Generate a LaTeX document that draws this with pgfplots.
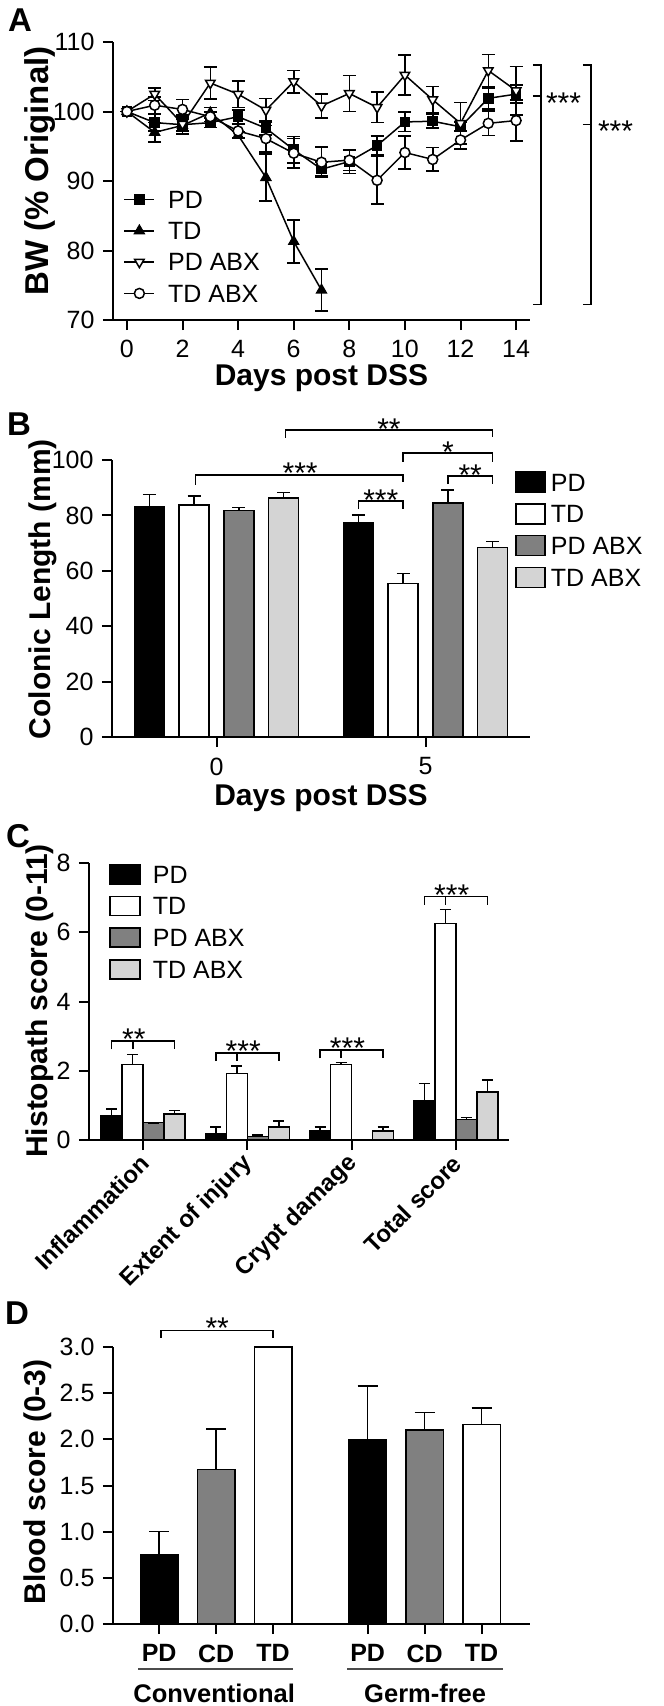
\documentclass[border=0pt]{standalone}
\usepackage{fontspec}
\setmainfont{Liberation Sans}
\usepackage{pgfplots}
\pgfplotsset{compat=1.18}

\definecolor{dgray}{RGB}{128,128,128}
\definecolor{lgray}{RGB}{212,212,212}
\newcommand{\fs}[1]{\fontsize{#1}{#1}\selectfont}

\pgfplotsset{
  prism/.style={
    scale only axis, anchor=south west, clip=false,
    axis x line*=bottom, axis y line*=left,
    axis line style={line width=2pt},
    tick style={line width=2pt, black},
    tick align=outside, major tick length=10pt,
    tick label style={font=\fs{25}},
    xticklabel style={yshift=-7pt},
    yticklabel style={xshift=-5pt},
    /pgf/number format/assume math mode=true,
    label style={font=\bfseries\fs{30}},
    legend cell align=left,
    error bars/error bar style={line width=1.6pt},
  },
  linelegend/.style={
    legend image code/.code={\draw[mark repeat=2,mark phase=2,##1] plot coordinates {(0pt,0pt) (15pt,0pt) (30pt,0pt)};}},
  boxlegend/.style 2 args={
    every axis plot post/.append style={
      legend image code/.code={\draw[##1, line width=1.5pt] (0pt,-#2) rectangle (#1,#2);}}},
  bar/.style={draw=black, line width=1.5pt, error bars/y dir=plus, error bars/y explicit},
}
\tikzset{
  brk/.style={line width=1.5pt},
  star/.style={font=\fs{30}, inner sep=0pt, anchor=base},
}

\begin{document}
\begin{tikzpicture}
\useasboundingbox (0pt,0pt) rectangle (664pt,-1706pt);
\node[font=\bfseries\fs{33}] at (20pt,-20pt) {A};
\node[font=\bfseries\fs{33}] at (19pt,-424pt) {B};
\node[font=\bfseries\fs{33}] at (18pt,-836pt) {C};
\node[font=\bfseries\fs{33}] at (17pt,-1313pt) {D};

% ---------------- A: body weight ----------------
\begin{axis}[prism, linelegend, at={(113pt,-320pt)}, width=417pt, height=278pt,
  xmin=-0.5, xmax=14.5, ymin=70, ymax=110,
  xtick={0,2,...,14}, ytick={70,80,...,110},
  xlabel={Days post DSS}, ylabel={BW (\% Original)},
  xlabel style={at={(axis description cs:0.5,-0.21)}, anchor=center},
  ylabel style={at={(axis description cs:-0.175,0.536)}, anchor=center, font=\bfseries\fs{33}},
  error bars/error mark options={rotate=90, line width=1.6pt, mark size=6.5pt},
  legend style={draw=none, fill=none, inner sep=0pt, font=\fs{25},
    at={(axis description cs:0.025,0.466)}, anchor=north west,
    row sep=13.6pt, column sep=13pt,
    nodes={inner sep=0pt, text height=17.7pt, text depth=0pt}},
]
\addplot[black, line width=1.5pt, mark=square*, mark size=4.5pt,
  error bars/.cd, y dir=both, y explicit] coordinates {
  (0,100) +- (0,0) (1,98.4) +- (0,1.2) (2,98.1) +- (0,1.4) (3,98.4) +- (0,0.7)
  (4,99.25) +- (0,1.0) (5,97.6) +- (0,1.0) (6,94.5) +- (0,1.9) (7,91.7) +- (0,1.0)
  (8,92.8) +- (0,1.7) (9,95.1) +- (0,1.4) (10,98.5) +- (0,1.4) (11,98.6) +- (0,1.0)
  (12,97.8) +- (0,0.7) (13,101.9) +- (0,1.5) (14,102.5) +- (0,1.3)};
\addlegendentry{PD}
\addplot[black, line width=1.5pt, mark=triangle*, mark size=5.5pt,
  error bars/.cd, y dir=both, y explicit] coordinates {
  (0,100) +- (0,0) (1,97.0) +- (0,1.4) (2,98.0) +- (0,1.2) (3,99.8) +- (0,0.8)
  (4,96.6) +- (0,0.5) (5,90.5) +- (0,3.35) (6,81.3) +- (0,3.1) (7,74.3) +- (0,3.0)};
\addlegendentry{TD}
\addplot[black, line width=1.5pt, mark=triangle*, mark size=5.5pt,
  mark options={rotate=180, fill=white},
  error bars/.cd, y dir=both, y explicit] coordinates {
  (0,100) +- (0,0) (1,102.5) +- (0,0.9) (2,98.2) +- (0,1.0) (3,104.1) +- (0,2.3)
  (4,102.5) +- (0,1.9) (5,100.2) +- (0,1.7) (6,104.3) +- (0,1.6) (7,100.8) +- (0,1.7)
  (8,102.6) +- (0,2.6) (9,100.6) +- (0,2.2) (10,105.25) +- (0,2.9) (11,101.7) +- (0,1.9)
  (12,98.3) +- (0,3.0) (13,105.9) +- (0,2.3) (14,103.0) +- (0,3.5)};
\addlegendentry{PD ABX}
\addplot[black, line width=1.5pt, mark=*, mark size=5pt, mark options={fill=white},
  error bars/.cd, y dir=both, y explicit] coordinates {
  (0,100) +- (0,0) (1,100.9) +- (0,1.2) (2,100.3) +- (0,1.4) (3,99.25) +- (0,0.7)
  (4,97.2) +- (0,1.0) (5,96.1) +- (0,1.9) (6,94.0) +- (0,2.1) (7,92.7) +- (0,2.2)
  (8,93.0) +- (0,1.5) (9,90.1) +- (0,3.4) (10,94.1) +- (0,2.4) (11,93.1) +- (0,1.7)
  (12,95.9) +- (0,1.3) (13,98.3) +- (0,1.75) (14,98.7) +- (0,2.95)};
\addlegendentry{TD ABX}
\draw[brk] (axis cs:14.6,106.7) -| (axis cs:14.89,72.2) -- (axis cs:14.6,72.2);
\draw[brk] (axis cs:14.6,102.2) -- (axis cs:14.89,102.2);
\node[star, anchor=base west, yshift=-17pt] at (axis cs:15.07,102.2) {***};
\draw[brk] (axis cs:16.4,106.7) -| (axis cs:16.69,72.2) -- (axis cs:16.4,72.2);
\draw[brk] (axis cs:16.4,98.1) -- (axis cs:16.69,98.1);
\node[star, anchor=base west, yshift=-17pt] at (axis cs:16.94,98.1) {***};
\end{axis}

% ---------------- B: colonic length ----------------
\begin{axis}[prism, at={(112pt,-737pt)}, width=418pt, height=277pt,
  xmin=-0.5, xmax=1.5, ymin=0, ymax=100,
  xtick={0,1}, xticklabels={0,5}, ytick={0,20,...,100},
  ybar=14.7pt, bar width=30pt, boxlegend={29pt}{10pt},
  xlabel={Days post DSS}, ylabel={Colonic Length (mm)},
  xlabel style={at={(axis description cs:0.5,-0.22)}, anchor=center},
  ylabel style={at={(axis description cs:-0.165,0.534)}, anchor=center},
  error bars/error mark options={rotate=90, line width=1.6pt, mark size=6.5pt},
  legend style={draw=none, fill=none, inner sep=0pt, font=\fs{25},
    at={(axis description cs:0.9646,0.9596)}, anchor=north west,
    row sep=10.2pt, column sep=5pt,
    nodes={inner sep=0pt, text height=17.7pt, text depth=0pt}},
]
\addplot[bar, fill=black] coordinates {(0,83.2) +- (0,4.4) (1,77.4) +- (0,2.8)};
\addlegendentry{PD}
\addplot[bar, fill=white] coordinates {(0,83.8) +- (0,3.3) (1,55.5) +- (0,3.6)};
\addlegendentry{TD}
\addplot[bar, fill=dgray] coordinates {(0,81.7) +- (0,1.2) (1,84.4) +- (0,4.8)};
\addlegendentry{PD ABX}
\addplot[bar, fill=lgray] coordinates {(0,86.2) +- (0,2.1) (1,68.4) +- (0,2.2)};
\addlegendentry{TD ABX}
\draw[brk] (axis cs:0.33,108.0) |- (axis cs:1.321,110.8) -- (axis cs:1.321,108.3);
\node[star, yshift=-9pt] at (axis cs:0.825,110.8) {**};
\draw[brk] (axis cs:0.893,99.3) |- (axis cs:1.321,102.5) -- (axis cs:1.321,99.3);
\node[star, yshift=-9pt] at (axis cs:1.107,102.5) {*};
\draw[brk] (axis cs:1.107,91.3) |- (axis cs:1.321,94.2) -- (axis cs:1.321,91.3);
\node[star, yshift=-9pt] at (axis cs:1.214,94.2) {**};
\draw[brk] (axis cs:-0.1,91.0) |- (axis cs:0.893,94.6) -- (axis cs:0.893,92.0);
\node[star, yshift=-9pt] at (axis cs:0.4,94.6) {***};
\draw[brk] (axis cs:0.679,82.3) |- (axis cs:0.893,85.2) -- (axis cs:0.893,82.3);
\node[star, yshift=-9pt] at (axis cs:0.786,85.2) {***};
\end{axis}

% ---------------- C: histopathology ----------------
\begin{axis}[prism, at={(89pt,-1140pt)}, width=420pt, height=277pt,
  xmin=-0.52, xmax=3.51, ymin=0, ymax=8,
  xtick={0,1,2,3}, ytick={0,2,...,8},
  xticklabels={Inflammation, Extent of injury, Crypt damage, Total score},
  xticklabel style={xshift=4pt, rotate=45, anchor=east, font=\bfseries\fs{24}},
  ybar=0pt, bar width=21pt, boxlegend={30pt}{9.5pt},
  ylabel={Histopath score (0-11)},
  ylabel style={at={(axis description cs:-0.117,0.502)}, anchor=center},
  error bars/error mark options={rotate=90, line width=1.6pt, mark size=5.5pt},
  legend style={draw=none, fill=none, inner sep=0pt, font=\fs{25},
    at={(axis description cs:0.048,0.997)}, anchor=north west,
    row sep=11.2pt, column sep=12pt,
    nodes={inner sep=0pt, text height=17.7pt, text depth=0pt}},
]
\addplot[bar, fill=black] coordinates {(0,0.70) +- (0,0.19) (1,0.19) +- (0,0.18) (2,0.26) +- (0,0.12) (3,1.13) +- (0,0.50)};
\addlegendentry{PD}
\addplot[bar, fill=white] coordinates {(0,2.18) +- (0,0.29) (1,1.92) +- (0,0.21) (2,2.18) +- (0,0.06) (3,6.26) +- (0,0.40)};
\addlegendentry{TD}
\addplot[bar, fill=dgray] coordinates {(0,0.5) +- (0,0) (1,0.1) +- (0,0.04) (3,0.59) +- (0,0.06)};
\addlegendentry{PD ABX}
\addplot[bar, fill=lgray] coordinates {(0,0.75) +- (0,0.10) (1,0.375) +- (0,0.17) (2,0.26) +- (0,0.12) (3,1.38) +- (0,0.35)};
\addlegendentry{TD ABX}
% brackets: PD bar centre to TD ABX bar centre, stub over TD
\draw[brk] (axis cs:-0.302,2.62) |- (axis cs:0.302,2.86) -- (axis cs:0.302,2.62);
\draw[brk] (axis cs:-0.1,2.86) -- (axis cs:-0.1,2.62);
\draw[brk] (axis cs:0.698,2.28) |- (axis cs:1.302,2.52) -- (axis cs:1.302,2.28);
\draw[brk] (axis cs:0.9,2.52) -- (axis cs:0.9,2.28);
\draw[brk] (axis cs:1.698,2.36) |- (axis cs:2.302,2.60) -- (axis cs:2.302,2.36);
\draw[brk] (axis cs:1.9,2.60) -- (axis cs:1.9,2.36);
\draw[brk] (axis cs:2.698,6.80) |- (axis cs:3.302,7.04) -- (axis cs:3.302,6.80);
\draw[brk] (axis cs:2.9,7.04) -- (axis cs:2.9,6.80);
\node[star, yshift=-9pt] at (axis cs:-0.09,2.86) {**};
\node[star, yshift=-9pt] at (axis cs:0.96,2.52) {***};
\node[star, yshift=-9pt] at (axis cs:1.96,2.60) {***};
\node[star, yshift=-9pt] at (axis cs:2.96,7.04) {***};
\end{axis}

% ---------------- D: blood score ----------------
\begin{axis}[prism, at={(113pt,-1624pt)}, width=417pt, height=277pt,
  xmin=-0.81, xmax=6.51, ymin=0, ymax=3,
  xtick={0,1,2,3.66,4.66,5.66}, xticklabels={PD,CD,TD,PD,CD,TD},
  xticklabel style={font=\bfseries\fs{25}},
  ytick={0,0.5,...,3},
  yticklabel style={/pgf/number format/.cd, fixed, fixed zerofill, precision=1},
  ybar, bar width=37.5pt,
  ylabel={Blood score (0-3)},
  ylabel style={at={(axis description cs:-0.18,0.513)}, anchor=center},
  error bars/error mark options={rotate=90, line width=1.6pt, mark size=10pt},
]
\addplot[bar, bar shift=0pt, fill=black] coordinates {(0,0.754) +- (0,0.246) (3.66,2.0) +- (0,0.58)};
\addplot[bar, bar shift=0pt, fill=dgray] coordinates {(1,1.673) +- (0,0.437) (4.66,2.1) +- (0,0.19)};
\addplot[bar, bar shift=0pt, fill=white] coordinates {(2,3.0) +- (0,0) (5.66,2.16) +- (0,0.18)};
\draw[brk] (axis cs:0.035,3.1) |- (axis cs:2.0,3.18) -- (axis cs:2.0,3.1);
\node[star, yshift=-8pt] at (axis cs:1.02,3.18) {**};
\draw[line width=1.2pt, black!70] (axis cs:-0.37,-0.487) -- (axis cs:2.35,-0.487);
\draw[line width=1.2pt, black!70] (axis cs:3.30,-0.487) -- (axis cs:6.04,-0.487);
\node[font=\bfseries\fs{25.5}] at (axis cs:0.965,-0.75) {Conventional};
\node[font=\bfseries\fs{25.5}] at (axis cs:4.67,-0.75) {Germ-free};
\end{axis}
\end{tikzpicture}
\end{document}
